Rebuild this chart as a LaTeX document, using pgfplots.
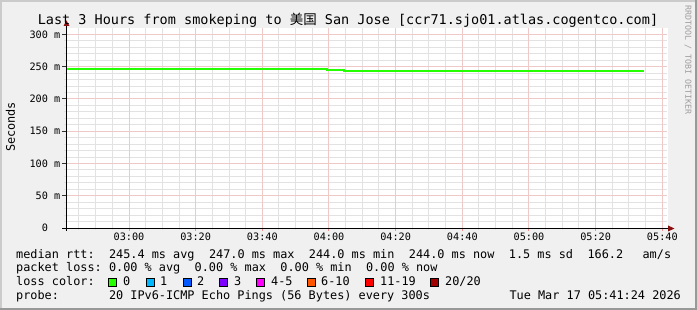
\documentclass[border=0pt]{standalone}
\usepackage{pgfplots}
\pgfplotsset{compat=1.18}
\usepackage{fontspec}
\setmainfont{DejaVu Sans Mono}
\newfontfamily\cjk{Noto Sans CJK SC}
\definecolor{bgc}{HTML}{F0F0F0}
\definecolor{shadea}{HTML}{CBCBCB}
\definecolor{shadeb}{HTML}{999999}
\definecolor{gridc}{HTML}{E2E2E2}
\definecolor{mgridc}{HTML}{EFC8C8}
\definecolor{arrowc}{HTML}{8B1010}
\definecolor{lc0}{HTML}{26FF00}
\definecolor{lc1}{HTML}{00B8FF}
\definecolor{lc2}{HTML}{0059FF}
\definecolor{lc3}{HTML}{7E00FF}
\definecolor{lc4}{HTML}{FF00FF}
\definecolor{lc5}{HTML}{FF5500}
\definecolor{lc6}{HTML}{FF0000}
\definecolor{lc7}{HTML}{A10000}
\pgfmathdeclarefunction{snapx}{1}{\pgfmathparse{161.4+(floor(67+(#1-161.4)*3.333333)+0.5-67)*0.3}}
\pgfmathdeclarefunction{snapy}{1}{\pgfmathparse{(floor(82+#1*0.645161)+0.5-82)*1.55}}
\newcommand\tfont{\fontsize{10.2pt}{12pt}\selectfont}
\newcommand\lfont{\fontsize{11.85pt}{14pt}\selectfont}
\newcommand\ttlfont{\fontsize{13.5pt}{16pt}\selectfont}
\newcommand\lt[3]{\node[anchor=base west,inner sep=0pt,font=\lfont] at (#1pt,{(310-#2)*1pt}) {#3};}
\newcommand\lbox[2]{\filldraw[fill=#2,draw=black,line width=1pt] ({(#1+0.5)*1pt},23.2pt) rectangle ({(#1+8.5)*1pt},31.2pt);}
\begin{document}
\begin{tikzpicture}
\fill[bgc] (0,0) rectangle (697pt,310pt);
\fill[shadea] (0,0) rectangle (2pt,310pt);
\fill[shadea] (0,308pt) rectangle (697pt,310pt);
\fill[shadeb] (0,0) rectangle (697pt,2pt);
\fill[shadeb] (695pt,0) rectangle (697pt,310pt);
\fill[white] (67pt,82pt) rectangle (668pt,282pt);
\begin{axis}[
  at={(67pt,82pt)}, anchor=south west,
  scale only axis, width=600pt, height=200pt,
  xmin=161.4, xmax=341.4, ymin=0, ymax=310,
  clip=false,
  axis line style={draw=none},
  tick align=outside,
  major tick length=3pt, minor tick length=0pt,
  xtick={180,200,...,340},
  xticklabels={03:00,03:20,03:40,04:00,04:20,04:40,05:00,05:20,05:40},
  ytick={0,50,...,300},
  yticklabels={0\phantom{mm},50 m,100 m,150 m,200 m,250 m,300 m},
  xtick style={draw=none},
  ytick style={draw=none},
  xticklabel style={font=\tfont, inner sep=0pt, anchor=base, yshift=-9.7pt},
  yticklabel style={font=\tfont, inner sep=0pt, anchor=east, xshift=-3.5pt},
]
% minor vertical grid (every 5 min)
\pgfplotsinvokeforeach{165,170,175,185,190,195,205,210,215,225,230,235,245,250,255,265,270,275,285,290,295,305,310,315,325,330,335}{
  \draw[gridc, line width=1pt] (axis cs:{snapx(#1)},-3.1) -- (axis cs:{snapx(#1)},310);
}
% minor horizontal grid (every 10 ms)
\pgfplotsinvokeforeach{10,20,30,40,60,70,80,90,110,120,130,140,160,170,180,190,210,220,230,240,260,270,280,290}{
  \draw[gridc, line width=1pt] (axis cs:160.5,{snapy(#1)}) -- (axis cs:341.4,{snapy(#1)});
}
% major vertical grid (every 20 min)
\pgfplotsinvokeforeach{180,200,...,340}{
  \draw[mgridc, line width=1pt] (axis cs:{snapx(#1)},0) -- (axis cs:{snapx(#1)},310);
  \draw[mgridc!70!red, line width=1pt] (axis cs:{snapx(#1)},-4.65) -- (axis cs:{snapx(#1)},-1.55);
}
% major horizontal grid (every 50 ms)
\pgfplotsinvokeforeach{50,100,...,300}{
  \draw[mgridc, line width=1pt] (axis cs:161.4,{snapy(#1)}) -- (axis cs:341.4,{snapy(#1)});
  \draw[black!80, line width=1pt] (axis cs:159.9,{snapy(#1)}) -- (axis cs:161.1,{snapy(#1)});
}
\addplot[const plot, draw=lc0, line width=2pt, mark=none] coordinates {
  (161.4,247) (239.5,245.5) (244.6,244) (334.5,244)
};
\end{axis}
\draw[black, line width=1pt] (62pt,81.5pt) -- (669pt,81.5pt);
\fill[arrowc] (668pt,78.5pt) -- (674.5pt,81.5pt) -- (668pt,84.5pt) -- cycle;
\draw[black, line width=1pt] (66.5pt,79pt) -- (66.5pt,285pt);
\fill[arrowc] (63.5pt,284pt) -- (66.5pt,289.5pt) -- (69.5pt,284pt) -- cycle;
\node[anchor=base,inner sep=0pt,font=\ttlfont] at (348pt,285.7pt) {Last 3 Hours from smokeping to {\cjk 美国} San Jose [ccr71.sjo01.atlas.cogentco.com]};
\node[rotate=90,inner sep=0pt,font=\lfont] at (10.5pt,183pt) {Seconds};
\node[rotate=-90,inner sep=0pt,font=\fontsize{8.3pt}{10pt}\selectfont,text=black!38] at (688pt,250pt) {RRDTOOL / TOBI OETIKER};
\lt{16}{258.3}{median rtt:}
\lt{108.8}{258.3}{245.4 ms avg}
\lt{208.8}{258.3}{247.0 ms max}
\lt{308.7}{258.3}{244.0 ms min}
\lt{408.7}{258.3}{244.0 ms now}
\lt{508.7}{258.3}{1.5 ms sd}
\lt{587.3}{258.3}{166.2}
\lt{642.4}{258.3}{am/s}
\lt{16}{272}{packet loss:}
\lt{108.8}{272}{0.00 \% avg}
\lt{194.5}{272}{0.00 \% max}
\lt{280.2}{272}{0.00 \% min}
\lt{365.9}{272}{0.00 \% now}
\lt{16}{286}{loss color:}
\lbox{108.3}{lc0}\lt{123}{286}{0}
\lbox{145.7}{lc1}\lt{160}{286}{1}
\lbox{182.7}{lc2}\lt{197}{286}{2}
\lbox{219.3}{lc3}\lt{234}{286}{3}
\lbox{256}{lc4}\lt{271}{286}{4-5}
\lbox{306.7}{lc5}\lt{321}{286}{6-10}
\lbox{365}{lc6}\lt{380}{286}{11-19}
\lbox{430}{lc7}\lt{445}{286}{20/20}
\lt{16}{300}{probe:}
\lt{108.8}{300}{20 IPv6-ICMP Echo Pings (56 Bytes) every 300s}
\node[anchor=base east,inner sep=0pt,font=\lfont] at (681pt,10pt) {Tue Mar 17 05:41:24 2026};
\pgfresetboundingbox
\useasboundingbox (0,0) rectangle (697pt,310pt);
\end{tikzpicture}
\end{document}
